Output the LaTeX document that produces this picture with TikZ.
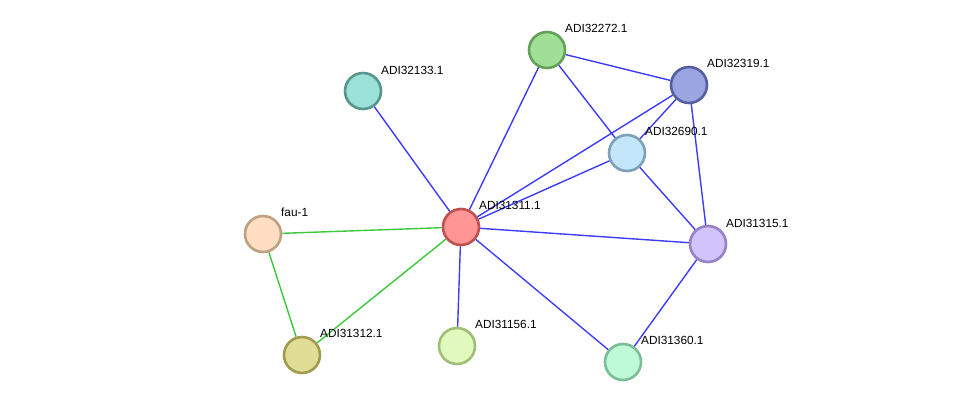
\documentclass[tikz,border=0pt]{standalone}
\usepackage{fontspec}
\setmainfont{Liberation Sans}
\definecolor{eblue}{RGB}{60,60,250}
\definecolor{egreen}{RGB}{60,200,60}
\begin{document}
\begin{tikzpicture}[x=1pt,y=-1pt,
  prot/.style={circle,minimum size=36pt,inner sep=0pt,line width=2.6pt},
  lbl/.style={anchor=west,inner sep=0pt,font=\fontsize{11.8}{13}\selectfont},
  bl/.style={draw=eblue,line width=1.4pt},
  gr/.style={draw=egreen,line width=1.4pt}]
\useasboundingbox (0,0) rectangle (975,407);
% nodes
\node[prot,fill={rgb,255:red,255;green,150;blue,150},draw={rgb,255:red,190;green,80;blue,80}] (a) at (461,227) {};
\node[prot,fill={rgb,255:red,160;green,224;blue,150},draw={rgb,255:red,100;green,160;blue,90}] (b) at (547,50) {};
\node[prot,fill={rgb,255:red,155;green,165;blue,225},draw={rgb,255:red,85;green,95;blue,160}] (c) at (689,85) {};
\node[prot,fill={rgb,255:red,195;green,230;blue,250},draw={rgb,255:red,125;green,160;blue,185}] (d) at (627,153) {};
\node[prot,fill={rgb,255:red,255;green,222;blue,195},draw={rgb,255:red,190;green,160;blue,130}] (e) at (263,234) {};
\node[prot,fill={rgb,255:red,225;green,220;blue,150},draw={rgb,255:red,160;green,155;blue,80}] (f) at (302,355) {};
\node[prot,fill={rgb,255:red,225;green,250;blue,190},draw={rgb,255:red,160;green,190;blue,120}] (g) at (457,346) {};
\node[prot,fill={rgb,255:red,190;green,250;blue,215},draw={rgb,255:red,120;green,190;blue,150}] (h) at (623,362) {};
\node[prot,fill={rgb,255:red,210;green,195;blue,250},draw={rgb,255:red,150;green,130;blue,200}] (i) at (708,244) {};
\node[prot,fill={rgb,255:red,155;green,225;blue,215},draw={rgb,255:red,85;green,150;blue,140}] (j) at (363,91) {};
% edges
\path[bl] (a) -- (j);
\path[bl] (a) -- (b);
\path[bl] (a) -- (c);
\path[bl] (a) -- (d);
\path[bl] (a) -- (i);
\path[bl] (a) -- (g);
\path[bl] (a) -- (h);
\path[gr] (a) -- (e);
\path[gr] (a) -- (f);
\path[gr] (e) -- (f);
\path[bl] (b) -- (c);
\path[bl] (b) -- (d);
\path[bl] (c) -- (d);
\path[bl] (c) -- (i);
\path[bl] (d) -- (i);
\path[bl] (i) -- (h);
% labels
\node[lbl] (la) at (479,205) {ADI31311.1};
\node[lbl] (lb) at (565,28) {ADI32272.1};
\node[lbl] (lc) at (707,63) {ADI32319.1};
\node[lbl] (ld) at (645,131) {ADI32690.1};
\node[lbl] (le) at (281,212) {fau-1};
\node[lbl] (lf) at (320,333) {ADI31312.1};
\node[lbl] (lg) at (475,324) {ADI31156.1};
\node[lbl] (lh) at (641,340) {ADI31360.1};
\node[lbl] (li) at (726,223) {ADI31315.1};
\node[lbl] (lj) at (381,70) {ADI32133.1};
\end{tikzpicture}
\end{document}
